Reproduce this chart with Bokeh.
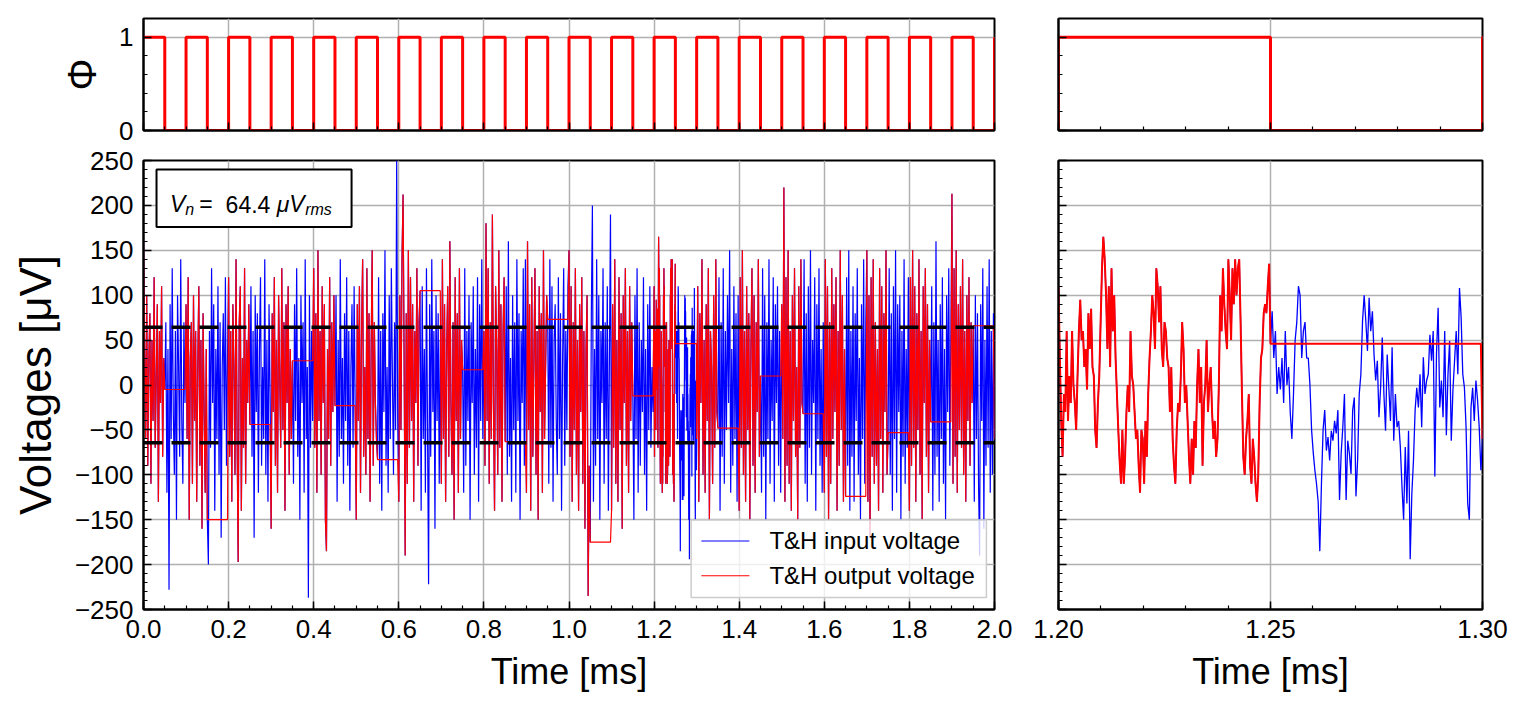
import numpy as np
from bokeh.plotting import figure
from bokeh.layouts import row, column
from bokeh.models import (Range1d, SingleIntervalTicker, FixedTicker, PrintfTickFormatter,
                          CustomJSTickFormatter, Span, BoxAnnotation, Label)
from bokeh.embed import file_html
from bokeh.resources import INLINE

FONT = "Liberation Sans"

# clock phase: 1 = track, 0 = hold (one level per half period)
phi_t = [0.00, 0.05, 0.10, 0.15, 0.20, 0.25, 0.30, 0.35, 0.40, 0.45,
         0.50, 0.55, 0.60, 0.65, 0.70, 0.75, 0.80, 0.85, 0.90, 0.95,
         1.00, 1.05, 1.10, 1.15, 1.20, 1.25, 1.30, 1.35, 1.40, 1.45,
         1.50, 1.55, 1.60, 1.65, 1.70, 1.75, 1.80, 1.85, 1.90, 1.95, 2.00]
phi_v = [1, 0, 1, 0, 1, 0, 1, 0, 1, 0,
         1, 0, 1, 0, 1, 0, 1, 0, 1, 0,
         1, 0, 1, 0, 1, 0, 1, 0, 1, 0,
         1, 0, 1, 0, 1, 0, 1, 0, 1, 0, 1]

vn_rms = 64.4  # uV rms

# T&H input voltage [uV], 0.0025 ms sampling, 0.0000 - 1.1975 ms (40 samples per clock period)
dt = 0.0025
vin_a = [
    160, 40, -60, 100, -90, 30, 80, -110, 50, -40, 120, -70, 10, 90, -130, 60, -20, 110, -80, 30,
    -5, 70, -120, 40, -228, 90, -60, 130, -30, -100, 60, -150, 100, 20, -80, 140, -40, -110, 70, -20,
    90, -60, 120, -150, 30, 70, -110, 100, -40, 60, -130, 20, 110, -90, 50, -160, 80, -30, -120, 40,
    -150, -200, 60, -70, 130, -20, 90, -140, 40, -60, 110, -100, 70, -170, 20, 80, -50, 120, -90, 30,
    120, -80, 60, -130, 90, 20, -100, 140, -60, -197, 70, 110, -140, 30, -70, 130, -110, 50, -20, 90,
    -44, 110, -80, 60, -170, 100, -30, 80, -120, 40, 120, -90, 20, -60, 140, -100, 50, -130, 90, -10,
    -160, 80, -30, 120, -90, 50, -120, 100, 10, -70, 130, -50, 70, -140, 90, -20, 110, -100, 40, -60,
    27, -110, 90, -40, 130, -80, 30, -150, 100, -20, 70, -120, 140, -60, 20, -237, 100, -70, 60, -40,
    130, -70, 80, -120, 150, -40, 60, -100, 110, -20, 90, -150, -185, 40, -60, 120, -90, 70, -30, 100,
    -23, 100, -130, 50, -80, 140, -60, 30, -110, 80, -40, 120, -90, 60, -140, 20, 90, -70, 110, -30,
    -150, 90, -40, 110, -120, 60, 140, -80, 20, -100, 130, -60, 80, -130, 40, 150, -90, 70, -20, -60,
    -83, 120, -110, 60, -140, 80, -30, 150, -90, 20, -120, 100, -60, 130, 10, -100, 70, -50, 250, -40,
    -130, 100, -50, 140, 212, 30, -190, 80, -110, 150, -70, 120, -40, 90, -130, 60, -20, 130, -90, 70,
    105, -140, 110, -60, 40, -120, 130, -50, -222, 90, -80, 140, -30, 60, -160, 100, -40, 80, -110, 50,
    -110, 140, -60, 90, -130, 40, 110, -80, 160, -20, -100, 70, -150, 120, -40, 80, -120, 130, -60, 50,
    17, -120, 130, -90, 60, -40, 100, -150, 70, -20, 110, -100, 40, -70, 120, -130, 90, -40, 140, -60,
    60, -90, 180, -40, 130, -110, 70, -60, 190, -20, -140, 110, 40, -100, 150, -70, 90, -130, 60, 120,
    -63, 110, -100, 160, -80, 30, -130, 100, -50, 70, -120, 140, -40, 80, -150, 60, -20, 130, -90, 140,
    -120, 160, -50, 90, -140, 120, -80, 30, 130, -100, 60, -150, 110, -30, 80, -120, 150, -60, 20, 100,
    73, -110, 140, -70, 110, -130, 50, 90, -40, -100, 120, -60, 80, -140, 30, 130, -90, 60, -50, 110,
    150, -80, 110, -130, 70, -50, 130, -100, 50, -140, 90, -30, 120, -110, 60, -160, 40, 100, -235, -90,
    -175, 80, 200, -130, 40, -90, 140, -60, 100, -150, 60, -20, 130, -110, 70, -60, 110, -140, 30, 190,
    -140, 90, -70, 140, -110, 50, -130, 120, -50, 80, -160, 100, -20, 130, -90, 60, -120, 110, -40, 70,
    -12, -150, 100, -60, 130, -120, 70, -90, 50, -30, 120, -100, 40, -140, 90, -50, 110, -70, 20, -30,
]

# finely sampled stretch, 1.20 - 1.25 ms (track phase)
vz_track = [
    110, 30, -40, -80, -10, -30, 60, -40, 10, -20, 60, 0, -20, -50, 10, 60, 95, 50, 60, 20,
    40, -5, 80, 40, 85, 20, 10, -50, -70, -20, 10, 70, 130, 165, 140, 100, 40, 110, 20, 130,
    60, 100, 30, -10, -50, -85, -110, -50, -110, -80, -30, 0, -30, 60, 10, 0, -30, -60, -50, -90,
    -120, -50, -60, -110, -40, -80, -10, 30, 60, 100, 80, 40, 130, 110, 70, 110, 40, 20, 70, 60,
    30, 20, -30, 20, -60, -90, -110, -50, -20, -30, 10, 70, 40, -20, 0, -40, -80, -110, -60, -100,
    -40, -70, 0, 40, -20, 20, -90, -20, 0, 50, -30, 0, 20, -30, -60, -40, -80, -60, 0, 100,
    60, 130, 90, 60, 40, 140, 100, 50, 130, 90, 140, 100, 130, 140, 70, -10, -80, -100, -60, -40,
    -10, -90, -110, -60, -80, -110, -130, -100, -20, 30, 40, 80, 90, 80, 110, 135, 46,
]

# finely sampled stretch, 1.25 - 1.30 ms (hold phase)
vz_hold = [
    82, 30, 60, -10, 20, -5, 30, -20, 60, 0, 20, -30, -60, -10, 50, 70, 110, 100, 30, 60,
    70, 30, 30, 0, -50, -75, -95, -110, -130, -185, -110, -50, -28, -73, -58, -84, -51, -62, -40, -54,
    -28, -128, -76, -47, -10, -128, -62, -76, -99, -28, -14, -124, -84, -10, 12, 71, 100, 71, 38, 97,
    60, 82, 34, 5, 27, -36, -3, 53, -10, -51, 34, -3, -40, 42, -62, -10, -47, -40, -69, -113,
    -150, -69, -132, -51, -194, -121, -84, -28, -3, -25, 12, -47, 31, -10, 5, 12, 56, 27, 60, -102,
    34, 86, -25, 5, -36, 60, -56, 12, 49, -62, -6, 27, 60, 12, 108, 75, 12, -3, -47, -132,
    -150, -25, -3, -40, 5, -17, -47, -95,
]

# 1.3000 - 2.0000 ms, 0.0025 ms sampling
vin_b = [
    -60, 110, -130, 80, -20, 140, -100, 50, -120, 90, -40, 130, -150, 60, 20, -110, 100, -70, 140, -30,
    -48, 120, -140, 70, -80, 130, -110, 60, -50, 100, -20, 150, -120, 40, -90, 110, -60, 80, -130, 100,
    -140, 120, -70, 150, -100, 60, -130, 110, -50, 80, -150, 40, 130, -90, 100, -120, 70, -30, 140, -80,
    10, -120, 130, -80, 100, -150, 70, -60, 140, -110, 50, -40, 120, -130, 90, -20, 110, -90, 60, -120,
    90, -60, 220, -130, 120, -90, 150, -110, 60, -140, 100, -40, 130, -80, 20, -150, 110, -70, 140, -20,
    -32, 140, -110, 80, -130, 110, -70, 150, -100, 50, -20, 120, -140, 90, -60, 130, -90, 40, -120, 70,
    -120, 140, -80, 110, -150, 70, -110, 130, -60, 90, -30, 120, -140, 60, -90, 150, -50, 100, -130, 40,
    -124, 120, -90, 150, -140, 60, -80, 110, -130, 80, -40, 130, -100, 30, -150, 90, -60, 140, -110, 70,
    150, -130, 100, -170, 120, -80, 140, -110, 70, -90, 40, -140, 130, -60, 110, -120, 80, -30, 150, -100,
    -53, 130, -100, 80, -140, 110, -60, 150, -120, 90, -30, 100, -150, 60, -80, 140, -110, 40, -70, 120,
    -140, 120, -90, 150, -70, 110, -130, 80, -50, 140, -100, 60, -150, 110, -20, 130, -80, 90, -120, 50,
    -41, 110, -140, 70, -100, 160, -80, 50, -130, 90, -60, 120, -110, 40, -150, 100, -30, 130, -90, 60,
    213, -110, 130, -80, 150, -120, 90, -50, 110, -70, 140, -100, 60, -130, 100, -40, 120, -90, 70, -20,
    66, -130, 100, -60, 80, -110, -190, 90, -40, 130, -160, 50, -90, 110, -70, 140, -120, 60, -100, 80,
    -60,
]

legend_labels = ["T&H input voltage", "T&H output voltage"]
colors = ["#0000ff", "#ff0000"]

t = np.concatenate([
    np.arange(len(vin_a)) * dt,
    np.linspace(1.20, 1.25, len(vz_track)),
    np.linspace(1.25, 1.30, len(vz_hold) + 2)[1:-1],
    1.30 + np.arange(len(vin_b)) * dt,
])
vin = np.array(vin_a + vz_track + vz_hold + vin_b, dtype=float)

# track & hold: output follows input while phi is high, holds otherwise
ph_t = np.array(phi_t)
ph_v = np.array(phi_v)


def phi_at(x):
    idx = np.clip(np.searchsorted(ph_t, x, side="right") - 1, 0, len(ph_v) - 1)
    return ph_v[idx]


track = (phi_at(t - 1e-9) == 1) | (phi_at(t + 1e-9) == 1)
vout = vin.copy()
for i in range(1, len(vout)):
    if not track[i]:
        vout[i] = vout[i - 1]

ytick_fmt = CustomJSTickFormatter(code="return tick < 0 ? '\u2212' + (-tick) : '' + tick;")


def style(p, show_x=True, show_y=True):
    p.outline_line_color = "black"
    p.outline_line_width = 2
    p.outline_line_alpha = 1
    p.grid.grid_line_color = "#b0b0b0"
    p.grid.grid_line_width = 1.5
    for ax in (p.xaxis[0], p.yaxis[0]):
        ax.axis_line_width = 2
        ax.major_tick_in = 8
        ax.major_tick_out = 0
        ax.minor_tick_in = 4
        ax.minor_tick_out = 0
        ax.major_tick_line_width = 1.5
        ax.minor_tick_line_width = 1.2
        ax.major_label_text_font = FONT
        ax.major_label_text_font_size = "26px"
        ax.major_label_text_color = "black"
        ax.major_label_standoff = 10
        ax.axis_label_text_font = FONT
        ax.axis_label_text_font_style = "normal"
        ax.axis_label_text_color = "black"
    if not show_x:
        p.xaxis.formatter = CustomJSTickFormatter(code="return '';")
        p.xaxis.major_label_standoff = 0
    if not show_y:
        p.yaxis.formatter = CustomJSTickFormatter(code="return '';")
        p.yaxis.major_label_standoff = 0


common = dict(output_backend="svg", toolbar_location=None)

# top left: clock
tl = figure(x_range=Range1d(0, 2.0), y_range=Range1d(0, 1.2), frame_width=851, frame_height=112,
            min_border_left=143, min_border_right=30, min_border_top=18, min_border_bottom=15, **common)
tl.step(phi_t, phi_v, mode="after", line_color="#ff0000", line_width=3)
tl.xaxis.ticker = SingleIntervalTicker(interval=0.2, num_minor_ticks=4)
tl.yaxis.ticker = FixedTicker(ticks=[0, 1], minor_ticks=[0.2, 0.4, 0.6, 0.8])
style(tl, show_x=False)
tl.yaxis.axis_label = "Φ"
tl.yaxis.axis_label_text_font_size = "40px"
tl.yaxis.axis_label_standoff = 12

# bottom left: voltages
bl = figure(x_range=Range1d(0, 2.0), y_range=Range1d(-250, 250), frame_width=851, frame_height=449,
            min_border_left=143, min_border_right=30, min_border_top=15, min_border_bottom=90, **common)
bl.line(t, vin, line_color=colors[0], line_width=1.2)
bl.line(t, vout, line_color=colors[1], line_width=1.2)
for lvl in (vn_rms, -vn_rms):
    bl.add_layout(Span(location=lvl, dimension="width", line_color="black",
                       line_width=3.5, line_dash="19 9"))
bl.xaxis.ticker = SingleIntervalTicker(interval=0.2, num_minor_ticks=4)
bl.xaxis.formatter = PrintfTickFormatter(format="%.1f")
bl.yaxis.ticker = SingleIntervalTicker(interval=50, num_minor_ticks=5)
bl.yaxis.formatter = ytick_fmt
style(bl)
bl.xaxis.axis_label = "Time [ms]"
bl.yaxis.axis_label = "Voltages [μV]"
bl.xaxis.axis_label_text_font_size = "36px"
bl.yaxis.axis_label_text_font_size = "44px"
bl.xaxis.axis_label_standoff = 10
bl.yaxis.axis_label_standoff = 12

# legend (drawn by hand, bottom right of the panel)
bl.add_layout(BoxAnnotation(left=1.287, right=1.981, bottom=-236.7, top=-150.4, fill_color="white",
                            fill_alpha=0.8, line_color="#cccccc", line_alpha=1, line_width=1.5))
for k, (lab, col) in enumerate(zip(legend_labels, colors)):
    yc = -173.7 - 38.7 * k
    bl.add_layout(BoxAnnotation(left=1.311, right=1.424, bottom=yc - 0.6, top=yc + 0.6,
                                fill_color=col, fill_alpha=1, line_alpha=0))
    bl.add_layout(Label(x=1.471, y=yc, text=lab, text_font=FONT, text_font_size="24px",
                        text_color="black", text_baseline="middle"))

# rms annotation box
bl.add_layout(BoxAnnotation(left=0.0306, right=0.489, bottom=176, top=240, fill_color="white",
                            fill_alpha=1, line_color="black", line_alpha=1, line_width=2))
parts = [
    (0.062, 201.5, "V", "23px", "italic"),
    (0.098, 195, "n", "16px", "italic"),
    (0.131, 201.5, "=", "23px", "normal"),
    (0.193, 201.5, "64.4", "23px", "normal"),
    (0.313, 201.5, "μV", "23px", "italic"),
    (0.380, 195, "rms", "16px", "italic"),
]
for x, y, txt, size, style_ in parts:
    bl.add_layout(Label(x=x, y=y, text=txt, text_font=FONT, text_font_size=size,
                        text_font_style=style_, text_color="black", text_baseline="alphabetic"))

# top right: clock zoom
tr = figure(x_range=Range1d(1.20, 1.30), y_range=Range1d(0, 1.2), frame_width=424, frame_height=112,
            min_border_left=34, min_border_right=34, min_border_top=18, min_border_bottom=15, **common)
tr.step(phi_t, phi_v, mode="after", line_color="#ff0000", line_width=3)
tr.xaxis.ticker = SingleIntervalTicker(interval=0.05, num_minor_ticks=5)
tr.yaxis.ticker = FixedTicker(ticks=[0, 1], minor_ticks=[0.2, 0.4, 0.6, 0.8])
style(tr, show_x=False, show_y=False)

# bottom right: voltage zoom
br = figure(x_range=Range1d(1.20, 1.30), y_range=Range1d(-250, 250), frame_width=424, frame_height=449,
            min_border_left=34, min_border_right=34, min_border_top=15, min_border_bottom=90, **common)
br.line(t, vin, line_color=colors[0], line_width=1.3)
br.line(t, vout, line_color=colors[1], line_width=2)
br.xaxis.ticker = SingleIntervalTicker(interval=0.05, num_minor_ticks=5)
br.xaxis.formatter = PrintfTickFormatter(format="%.2f")
br.yaxis.ticker = SingleIntervalTicker(interval=50, num_minor_ticks=5)
style(br, show_y=False)
br.xaxis.axis_label = "Time [ms]"
br.xaxis.axis_label_text_font_size = "36px"
br.xaxis.axis_label_standoff = 10

layout = row(column(tl, bl), column(tr, br))
open("out.html", "w").write(file_html(layout, INLINE))
